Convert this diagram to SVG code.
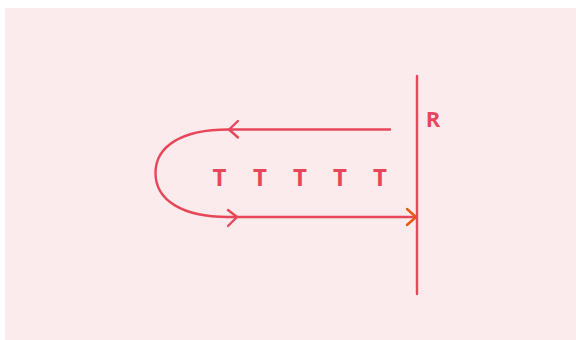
<svg xmlns="http://www.w3.org/2000/svg" width="576" height="340" viewBox="0 0 576 340">
<defs>
<style>
.ln{fill:none;stroke:#e8475a;stroke-width:2.4;stroke-linecap:round;stroke-linejoin:round}
.hd{fill:none;stroke:#e8475a;stroke-width:2.4;stroke-linecap:round;stroke-linejoin:round}
.hdo{fill:none;stroke:#e8590c;stroke-width:2.4;stroke-linecap:round;stroke-linejoin:round}
.lbl{font-family:"Open Sans","Noto Sans",sans-serif;font-weight:bold;fill:#e8475a;text-anchor:middle}
</style>
</defs>
<rect x="5" y="8" width="571" height="332" fill="#fcebec"/>
<g id="connectors">
<path class="ln" d="M390,129.5 L228,129.5 C182,129.5 155.5,146 155.5,173 C155.5,200 182,217 228,217 L416,217"/>
<path class="hd" d="M238,121 L229,129.5 L238,137.5"/>
<path class="hd" d="M228,210 L237,217 L228,226"/>
<path class="hdo" d="M407,209 L416,217 L407,225"/>
</g>
<g id="R">
<line class="ln" x1="417" y1="76" x2="417" y2="294"/>
<text class="lbl" x="433" y="126.7" font-size="22">R</text>
</g>
<g id="T">
<text class="lbl" x="219.5" y="186" font-size="24">T</text>
<text class="lbl" x="260" y="186" font-size="24">T</text>
<text class="lbl" x="300" y="186" font-size="24">T</text>
<text class="lbl" x="340" y="186" font-size="24">T</text>
<text class="lbl" x="380" y="186" font-size="24">T</text>
</g>
</svg>
